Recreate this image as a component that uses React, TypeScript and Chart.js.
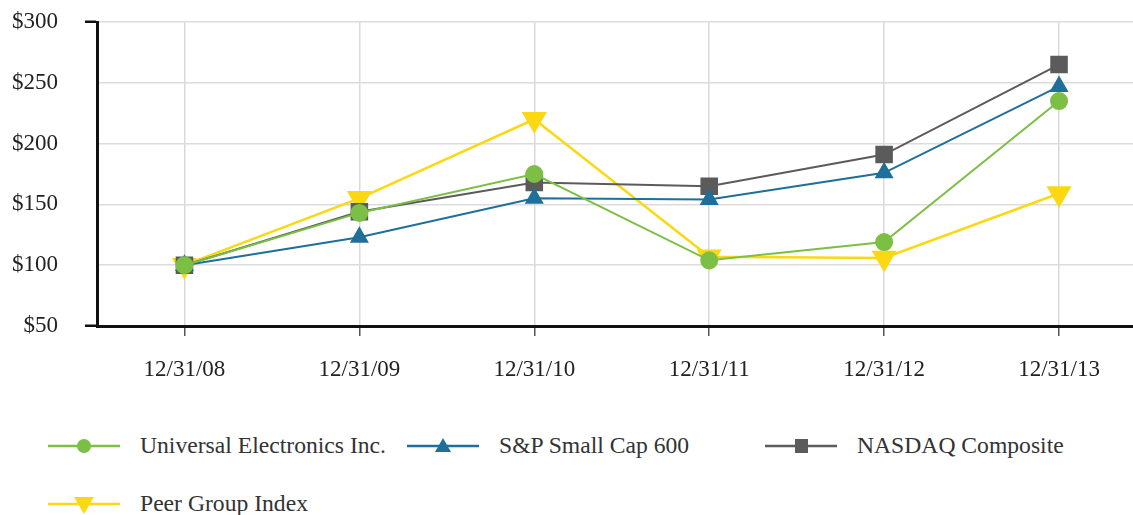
import React, { useEffect, useRef } from "react";
import { Chart, registerables } from "chart.js";

Chart.register(...registerables);

const categories = ["12/31/08", "12/31/09", "12/31/10", "12/31/11", "12/31/12", "12/31/13"];
const universalElectronics = [100, 143, 175, 104, 119, 235];
const spSmallCap600 = [100, 123, 155, 154, 176, 247];
const nasdaqComposite = [100, 144, 168, 165, 191, 265];
const peerGroupIndex = [100, 155, 220, 107, 106, 159];
const yTicks = [50, 100, 150, 200, 250, 300];

const GREEN = "#7cbf45";
const BLUE = "#1e6f9a";
const GRAY = "#5b5b5b";
const YELLOW = "#fcd813";
const FONT = "'Liberation Serif', 'Times New Roman', serif";

const CW = 1161;
const CH = 400;

function Symbol({ kind, color }: { kind: string; color: string }) {
  let marker: React.ReactNode = null;
  if (kind === "circle") marker = <circle cx={36} cy={12} r={7} fill={color} />;
  if (kind === "triangle") marker = <polygon points="36,4 44,18 28,18" fill={color} />;
  if (kind === "rect") marker = <rect x={30} y={5} width={13} height={14} fill={color} />;
  if (kind === "down") marker = <polygon points="26,5 46,5 36,22" fill={color} />;
  return (
    <svg width={72} height={24} style={{ display: "block" }}>
      <line x1={0} y1={12} x2={72} y2={12} stroke={color} strokeWidth={2.5} />
      {marker}
    </svg>
  );
}

const legendItems = [
  { label: "Universal Electronics Inc.", kind: "circle", color: GREEN, x: 48, y: 446 },
  { label: "S&P Small Cap 600", kind: "triangle", color: BLUE, x: 407, y: 446 },
  { label: "NASDAQ Composite", kind: "rect", color: GRAY, x: 765, y: 446 },
  { label: "Peer Group Index", kind: "down", color: YELLOW, x: 48, y: 504 },
];

export default function App() {
  const ref = useRef<HTMLCanvasElement | null>(null);

  useEffect(() => {
    if (!ref.current) return;
    const chart = new Chart(ref.current, {
      type: "line",
      data: {
        labels: categories,
        datasets: [
          {
            label: "Universal Electronics Inc.",
            data: universalElectronics,
            borderColor: GREEN,
            backgroundColor: GREEN,
            pointBackgroundColor: GREEN,
            pointBorderColor: GREEN,
            pointStyle: "circle",
            pointRadius: 8,
            borderWidth: 2,
            order: 0,
          },
          {
            label: "S&P Small Cap 600",
            data: spSmallCap600,
            borderColor: BLUE,
            backgroundColor: BLUE,
            pointBackgroundColor: BLUE,
            pointBorderColor: BLUE,
            pointStyle: "triangle",
            pointRadius: 9,
            borderWidth: 2,
            order: 1,
          },
          {
            label: "NASDAQ Composite",
            data: nasdaqComposite,
            borderColor: GRAY,
            backgroundColor: GRAY,
            pointBackgroundColor: GRAY,
            pointBorderColor: GRAY,
            pointStyle: "rect",
            pointRadius: 11,
            borderWidth: 2,
            order: 2,
          },
          {
            label: "Peer Group Index",
            data: peerGroupIndex,
            borderColor: YELLOW,
            backgroundColor: YELLOW,
            pointBackgroundColor: YELLOW,
            pointBorderColor: YELLOW,
            pointStyle: "triangle",
            pointRotation: 180,
            pointRadius: 12,
            borderWidth: 2.5,
            order: 3,
          },
        ],
      },
      options: {
        responsive: false,
        animation: false,
        layout: { padding: { top: 22, right: 0, left: 0, bottom: 0 } },
        plugins: { legend: { display: false }, tooltip: { enabled: false } },
        elements: { line: { tension: 0 } },
        scales: {
          x: {
            type: "category",
            offset: true,
            grid: {
              offset: false,
              color: "#d9d9d9",
              lineWidth: 1.5,
              tickColor: "#555",
              tickLength: 10,
              tickWidth: 1.5,
            },
            border: { display: true, color: "#111", width: 3 },
            ticks: {
              color: "#222",
              font: { family: FONT, size: 23 },
              padding: 20,
              maxRotation: 0,
              autoSkip: false,
            },
            afterFit: (s: any) => {
              s.height = CH - 326;
              s.paddingLeft = 0;
              s.paddingRight = 0;
            },
          },
          y: {
            min: 50,
            max: 300,
            afterBuildTicks: (s: any) => {
              s.ticks = yTicks.map((v) => ({ value: v }));
            },
            grid: {
              color: "#dcdcdc",
              lineWidth: 1.5,
              tickLength: 12,
              tickColor: (c: any) =>
                c.tick && (c.tick.value === 300 || c.tick.value === 50) ? "#111" : "rgba(0,0,0,0)",
              tickWidth: 2.5,
            },
            border: { display: true, color: "#111", width: 3 },
            ticks: {
              color: "#222",
              font: { family: FONT, size: 23 },
              padding: 27,
              callback: (v: any) => "$" + v,
            },
            afterFit: (s: any) => {
              s.width = 97;
              s.paddingTop = 0;
              s.paddingBottom = 0;
            },
          },
        },
      },
    });
    return () => chart.destroy();
  }, []);

  return (
    <div
      style={{
        position: "fixed",
        left: 0,
        top: 0,
        width: 1133,
        height: 515,
        overflow: "hidden",
        background: "#fff",
      }}
    >
      <canvas
        ref={ref}
        width={CW}
        height={CH}
        style={{ position: "absolute", left: 0, top: 0, width: CW, height: CH }}
      />
      {legendItems.map((it) => (
        <div
          key={it.label}
          style={{
            position: "absolute",
            left: it.x,
            top: it.y - 12,
            height: 24,
            display: "flex",
            alignItems: "center",
            whiteSpace: "nowrap",
          }}
        >
          <Symbol kind={it.kind} color={it.color} />
          <span
            style={{
              marginLeft: 20,
              fontFamily: FONT,
              fontSize: 22.5,
              color: "#333",
              lineHeight: "24px",
              display: "inline-block",
              transform: "scaleX(1.05)",
              transformOrigin: "left center",
            }}
          >
            {it.label}
          </span>
        </div>
      ))}
    </div>
  );
}
